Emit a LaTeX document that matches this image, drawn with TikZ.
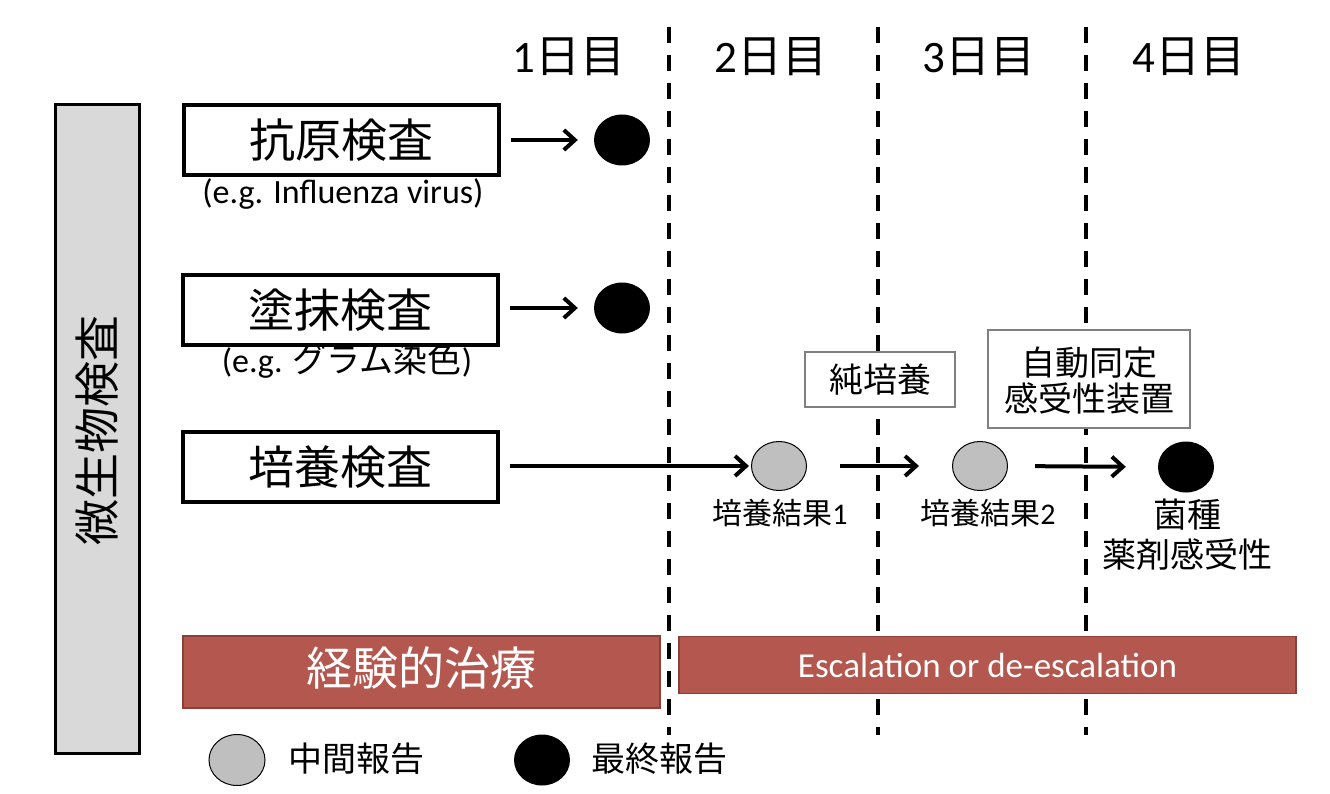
\documentclass[tikz,border=0pt]{standalone}
\usepackage{fontspec}
\setmainfont{Carlito}
\newfontfamily\cjk{Noto Sans CJK JP}
\usetikzlibrary{arrows.meta,shapes.geometric}
\definecolor{barred}{HTML}{B3574F}
\definecolor{barredge}{HTML}{8E3E38}
\definecolor{sidegray}{HTML}{D9D9D9}
\definecolor{midgray}{HTML}{BFBFBF}
\definecolor{noteedge}{HTML}{808080}
\newcommand{\fs}[1]{\fontsize{#1}{#1}\selectfont}

\begin{document}
\begin{tikzpicture}[x=1pt,y=-1pt,
  testbox/.style={draw, line width=3.3pt, fill=white, minimum width=315pt,
    minimum height=70pt, inner sep=0pt, font=\fs{46}\cjk},
  notebox/.style={draw=noteedge, line width=1.3pt, fill=white, inner sep=0pt,
    align=center, font=\fs{34}\cjk},
  finalrep/.style={ellipse, fill=black, minimum width=56pt, minimum height=51pt, inner sep=0pt},
  midrep/.style={ellipse, draw=black, line width=1pt, fill=midgray,
    minimum width=55pt, minimum height=49pt, inner sep=0pt},
  flow/.style={line width=4pt, -{Straight Barb[length=11pt,width=20pt]}},
  dayline/.style={line width=3.5pt, dash pattern=on 16pt off 12pt},
  daylabel/.style={font=\fs{45}, inner sep=0pt},
  therapy/.style={fill=barred, draw=barredge, line width=1.5pt, inner sep=0pt,
    text=white},
  caption/.style={inner sep=0pt, align=center},
]
\useasboundingbox (0,0) rectangle (1330,794);

% day boundaries
\coordinate (d1t) at (669,27);  \coordinate (d1b) at (669,735);
\coordinate (d2t) at (878,27);  \coordinate (d2b) at (878,735);
\coordinate (d3t) at (1086,27); \coordinate (d3b) at (1086,735);
\draw[dayline] (d1t) -- (d1b);
\draw[dayline] (d2t) -- (d2b);
\draw[dayline] (d3t) -- (d3b);

% day headings
\node[daylabel] (day1) at (569,57) {1{\cjk 日目}};
\node[daylabel] (day2) at (771,57) {2{\cjk 日目}};
\node[daylabel] (day3) at (979,57) {3{\cjk 日目}};
\node[daylabel] (day4) at (1189,57) {4{\cjk 日目}};

% side bar
\node[draw, line width=3pt, fill=sidegray, minimum width=84pt, minimum height=648pt,
  inner sep=0pt] (side) at (97.5,429) {};
\node[rotate=90, font=\fs{46}\cjk, inner sep=0pt] (sidelabel) at (97,430) {微生物検査};

% examinations
\node[caption, font=\fs{34}] (ex1) at (343,194) {(e.g. Influenza virus)};
\node[caption, font=\fs{34}] (ex2) at (347,361) {(e.g. {\cjk グラム染色})};
\node[testbox] (b1) at (341.5,140) {抗原検査};
\node[testbox] (b2) at (340.5,310) {塗抹検査};
\node[testbox] (b3) at (340.5,467) {培養検査};

% reports
\node[finalrep] (r1) at (622,140) {};
\node[finalrep] (r2) at (622,308) {};
\node[midrep] (m1) at (779,466) {};
\node[midrep] (m2) at (980,466) {};
\node[finalrep] (r3) at (1186,467) {};

\draw[flow, shorten <=10pt, shorten >=16pt] (b1.east) -- (r1.west);
\draw[flow, shorten <=10pt, shorten >=16pt] (b2.east |- r2) -- (r2.west);
\draw[flow, shorten <=10pt, shorten >=2pt] (b3.east |- m1) -- (m1.west);
\draw[flow, shorten <=33pt, shorten >=33pt] (m1.east) -- (m2.west);
\draw[flow, shorten <=27pt, shorten >=32pt] (m2.east) -- (r3.west);

% culture notes
\node[notebox, minimum width=150pt, minimum height=55pt] (pure) at (880,379.5) {純培養};
\node[notebox, minimum width=202pt, minimum height=98pt, text depth=0pt] (auto) at (1089,379)
  {自動同定\\[2pt]感受性装置};

% result captions
\node[caption, font=\fs{30}] (c1) at (780,513) {{\cjk 培養結果}1};
\node[caption, font=\fs{30}] (c2) at (988,513) {{\cjk 培養結果}2};
\node[caption, font=\fs{34}\cjk] (c3) at (1187,515) {菌種};
\node[caption, font=\fs{34}\cjk] (c4) at (1187,555) {薬剤感受性};

% therapy bars
\node[therapy, minimum width=477pt, minimum height=72pt] (emp) at (421.5,672) {};
\node[font=\fs{46}\cjk, text=white, inner sep=0pt] (emptext) at (421,668) {経験的治療};
\node[therapy, minimum width=617pt, minimum height=57pt, font=\fs{35}] (esc) at (987.5,665)
  {Escalation or de-escalation};

% legend
\node[midrep, minimum width=56pt, minimum height=51pt] (lmid) at (237,760) {};
\node[anchor=west, font=\fs{34}\cjk, inner sep=0pt] (lmidtext) at (288,759) {中間報告};
\node[finalrep] (lfin) at (542,760) {};
\node[anchor=west, font=\fs{34}\cjk, inner sep=0pt] (lfintext) at (591,759) {最終報告};
\end{tikzpicture}
\end{document}
